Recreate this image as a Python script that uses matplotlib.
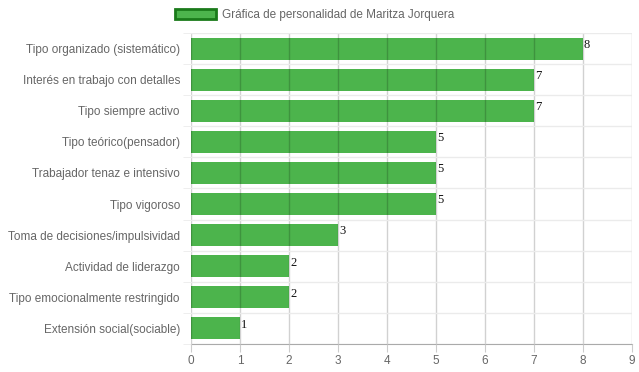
#!/usr/bin/env python3
"""plot.py"""

import matplotlib.pyplot as plt
from matplotlib.patches import Patch
import numpy as np

categories = [
    "Tipo organizado (sistemático)",
    "Interés en trabajo con detalles",
    "Tipo siempre activo",
    "Tipo teórico(pensador)",
    "Trabajador tenaz e intensivo",
    "Tipo vigoroso",
    "Toma de decisiones/impulsividad",
    "Actividad de liderazgo",
    "Tipo emocionalmente restringido",
    "Extensión social(sociable)",
]
values = [8, 7, 7, 5, 5, 5, 3, 2, 2, 1]
series_name = "Gráfica de personalidad de Maritza Jorquera"

plt.rcParams['font.family'] = ['Liberation Sans', 'DejaVu Sans']

fig = plt.figure(figsize=(6.39, 3.72), dpi=100)
ax = fig.add_axes([191 / 639, 1 - 344 / 372, 441 / 639, 311 / 372])

y = np.arange(len(categories))
ax.barh(y, values, height=0.71, color='#4cb44c', zorder=1)
for yi, v in zip(y, values):
    ax.text(v + 0.02, yi - 0.12, str(v), family='Liberation Serif', fontsize=9,
            color='#111111', ha='left', va='center', zorder=4)

ax.set_xlim(0, 9)
ax.set_ylim(len(categories) - 0.5, -0.5)
ax.set_xticks(range(10))
ax.set_yticks(y)
ax.set_yticklabels(categories, va='center_baseline')
ax.set_yticks(np.arange(-0.5, len(categories), 1), minor=True)

ax.tick_params(axis='both', labelsize=8.5, labelcolor='#666666')
ax.tick_params(axis='x', length=6, color='#cccccc', pad=2)
ax.tick_params(axis='y', which='major', length=0, pad=8)
ax.tick_params(axis='y', which='minor', length=6, color='#ebebeb')

ax.grid(axis='x', color='#000000', alpha=0.18, linewidth=1, zorder=3)
ax.grid(axis='y', which='minor', color='#ebebeb', linewidth=1, zorder=0)
ax.set_axisbelow(False)

for s in ['top', 'right', 'left']:
    ax.spines[s].set_visible(False)
ax.spines['bottom'].set_color('#aaaaaa')

handle = Patch(facecolor='#4cb44c', edgecolor='#1a7a1a', linewidth=2)
fig.legend([handle], [series_name], loc='upper center', bbox_to_anchor=(0.492, 1.005),
           frameon=False, fontsize=8.5, labelcolor='#666666',
           handlelength=3.5, handleheight=0.9, handletextpad=0.5)

fig.savefig('out.png', dpi=100)
